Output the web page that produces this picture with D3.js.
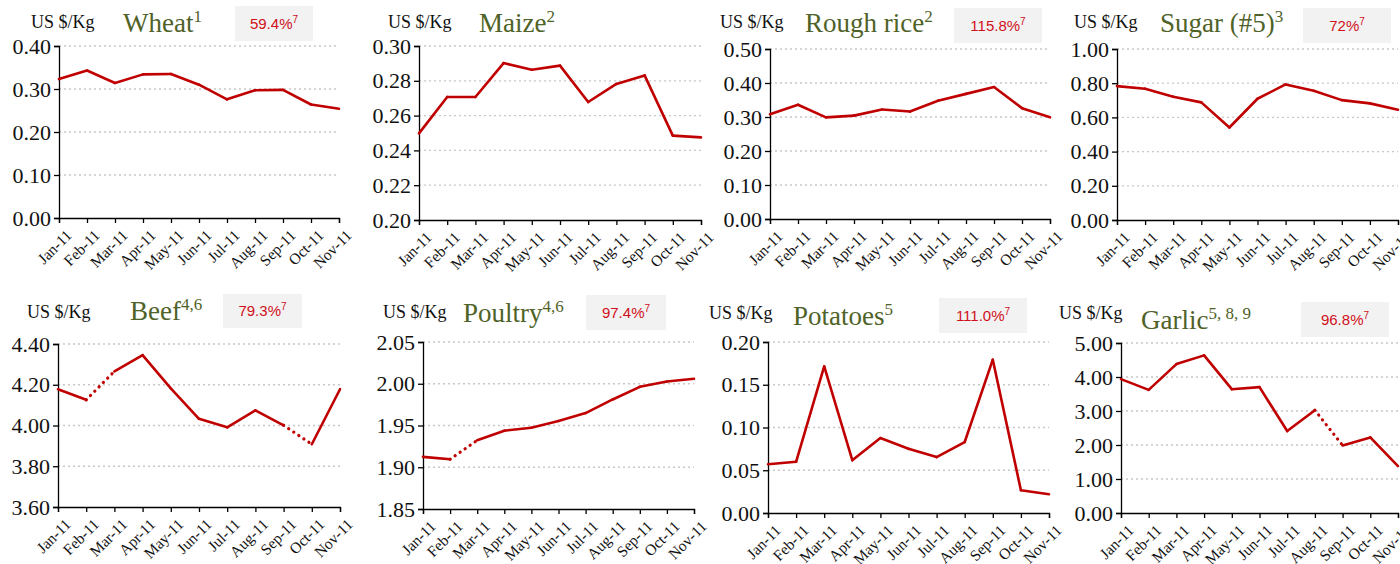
<!DOCTYPE html>
<html>
<head>
<meta charset="utf-8">
<script src="https://cdn.jsdelivr.net/npm/d3@7"></script>
<style>
  body { margin: 0; background: #fff; }
  svg { display: block; }
</style>
</head>
<body>
<div id="chart"></div>
<script>
// month labels shared by every panel
var months = ["Jan-11","Feb-11","Mar-11","Apr-11","May-11","Jun-11","Jul-11","Aug-11","Sep-11","Oct-11","Nov-11"];

// prices, US $/Kg
var wheat    = [0.323, 0.343, 0.314, 0.334, 0.335, 0.310, 0.276, 0.297, 0.298, 0.264, 0.254];
var maize    = [0.2498, 0.2707, 0.2707, 0.2902, 0.2864, 0.2887, 0.2678, 0.2782, 0.2831, 0.2485, 0.2475];
var roughRice= [0.308, 0.336, 0.299, 0.304, 0.322, 0.316, 0.348, 0.368, 0.388, 0.326, 0.299];
var sugar    = [0.783, 0.768, 0.721, 0.688, 0.541, 0.709, 0.793, 0.756, 0.701, 0.682, 0.645];
var beef     = [4.178, 4.126, 4.266, 4.345, 4.182, 4.033, 3.991, 4.074, 4.001, 3.908, 4.178];
var poultry  = [1.9124, 1.9096, 1.9323, 1.9438, 1.9474, 1.9554, 1.9649, 1.9812, 1.9963, 2.0027, 2.0059];
var potatoes = [0.0571, 0.0599, 0.1714, 0.0618, 0.0877, 0.0751, 0.0654, 0.0830, 0.1793, 0.0266, 0.0219];
var garlic   = [3.937, 3.622, 4.380, 4.636, 3.642, 3.701, 2.411, 3.022, 1.988, 2.224, 1.378];

// titles, footnote superscripts, percentage badges
var names    = ["Wheat", "Maize", "Rough rice", "Sugar (#5)", "Beef", "Poultry", "Potatoes", "Garlic"];
var notes    = ["1", "2", "2", "3", "4,6", "4,6", "5", "5, 8, 9"];
var badges   = ["59.4%", null, "115.8%", "72%", "79.3%", "97.4%", "111.0%", "96.8%"];
var series   = [wheat, maize, roughRice, sugar, beef, poultry, potatoes, garlic];

// y axis domains and tick steps
var yMin  = [0.00, 0.20, 0.00, 0.00, 3.60, 1.85, 0.00, 0.00];
var yMax  = [0.40, 0.30, 0.50, 1.00, 4.40, 2.05, 0.20, 5.00];
var yStep = [0.10, 0.02, 0.10, 0.20, 0.20, 0.05, 0.05, 1.00];

// segments drawn dotted (index of segment start)
var dotted = [[], [], [], [], [1, 8], [1], [], [7]];

// panel layout: plot box + label positions
var layout = [
  {x0: 59,   x1: 339,  y0: 46,  y1: 218, unit: [31, 28],   title: [123, 32],  box: [235, 6, 78, 35]},
  {x0: 419,  x1: 701,  y0: 46,  y1: 220, unit: [388, 28],  title: [479, 32],  box: null},
  {x0: 770,  x1: 1050, y0: 49,  y1: 219, unit: [720, 28],  title: [805, 32],  box: [954, 8, 88, 35]},
  {x0: 1117, x1: 1398, y0: 49,  y1: 220, unit: [1074, 28], title: [1160, 32], box: [1303, 8, 88, 35]},
  {x0: 58,   x1: 340,  y0: 344, y1: 507, unit: [27, 318],  title: [130, 320], box: [223, 294, 79, 34]},
  {x0: 423,  x1: 694,  y0: 342, y1: 509, unit: [383, 318], title: [463, 322], box: [586, 295, 80, 35]},
  {x0: 768,  x1: 1049, y0: 342, y1: 513, unit: [709, 319], title: [793, 325], box: [939, 298, 88, 35]},
  {x0: 1121, x1: 1398, y0: 343, y1: 513, unit: [1059, 319],title: [1141, 329],box: [1301, 302, 88, 35]}
];

var red = "#c00000";
var serif = "'Liberation Serif', 'Times New Roman', serif";
var svg = d3.select("#chart").append("svg")
    .attr("width", 1400)
    .attr("height", 564);

for (var p = 0; p < series.length; p++) {
    drawPanel(p);
}

function drawPanel(p) {
    var L = layout[p];
    var values = series[p];

    var x = d3.scalePoint().domain(months).range([L.x0, L.x1]).padding(0);
    var y = d3.scaleLinear().domain([yMin[p], yMax[p]]).range([L.y1, L.y0]);

    var ticks = d3.range(yMin[p], yMax[p] + yStep[p] / 2, yStep[p]);
    var g = svg.append("g");

    // dotted grid
    g.selectAll(".grid")
        .data(ticks.slice(1))
        .enter().append("line")
        .attr("x1", L.x0).attr("x2", L.x1)
        .attr("y1", function(d) { return y(d); })
        .attr("y2", function(d) { return y(d); })
        .attr("stroke", "#c8c8c8")
        .attr("stroke-width", 1.3)
        .attr("stroke-dasharray", "2,3");

    var yAxis = g.append("g")
        .attr("transform", "translate(" + L.x0 + ",0)")
        .call(d3.axisLeft(y).tickValues(ticks).tickFormat(d3.format(".2f")).tickSize(5).tickPadding(3));
    yAxis.selectAll("text")
        .style("font-family", serif)
        .style("font-size", "22px")
        .attr("fill", "#111");

    var xAxis = g.append("g")
        .attr("transform", "translate(0," + L.y1 + ")")
        .call(d3.axisBottom(x).tickSize(5).tickPadding(2));
    xAxis.selectAll("text")
        .style("font-family", serif)
        .style("font-size", "15.5px")
        .attr("fill", "#111")
        .attr("text-anchor", "end")
        .attr("dy", "0.3em")
        .attr("transform", "translate(5,10) rotate(-45)");

    g.selectAll(".domain, .tick line").attr("stroke", "#000").attr("stroke-width", 1.3);

    // line, split into solid and dotted segments
    for (var i = 0; i < values.length - 1; i++) {
        var isDot = dotted[p].indexOf(i) >= 0;
        g.append("line")
            .attr("x1", x(months[i])).attr("y1", y(values[i]))
            .attr("x2", x(months[i + 1])).attr("y2", y(values[i + 1]))
            .attr("stroke", red)
            .attr("stroke-linecap", "round")
            .attr("stroke-dasharray", isDot ? "0.1,6" : null)
            .attr("stroke-width", isDot ? 3.2 : 2.6);
    }

    // unit label
    g.append("text")
        .attr("x", L.unit[0]).attr("y", L.unit[1])
        .style("font-family", serif)
        .style("font-size", "18px")
        .attr("fill", "#111")
        .text("US $/Kg");

    // title with superscript
    var t = g.append("text")
        .attr("x", L.title[0]).attr("y", L.title[1])
        .style("font-family", serif)
        .style("font-size", "27px")
        .attr("fill", "#4f6228")
        .text(names[p]);
    t.append("tspan")
        .style("font-size", "17px")
        .attr("dy", -10)
        .text(notes[p]);

    // percentage badge
    if (badges[p]) {
        var b = L.box;
        g.append("rect")
            .attr("x", b[0]).attr("y", b[1])
            .attr("width", b[2]).attr("height", b[3])
            .attr("fill", "#f2f2f2");
        var bt = g.append("text")
            .attr("x", b[0] + b[2] / 2).attr("y", b[1] + b[3] / 2 + 5)
            .attr("text-anchor", "middle")
            .style("font-family", "'Liberation Sans', Arial, sans-serif")
            .style("font-size", "15px")
            .attr("fill", "#d0101a")
            .text(badges[p]);
        bt.append("tspan")
            .style("font-size", "10px")
            .attr("dy", -6)
            .text("7");
    }
}
</script>
</body>
</html>
